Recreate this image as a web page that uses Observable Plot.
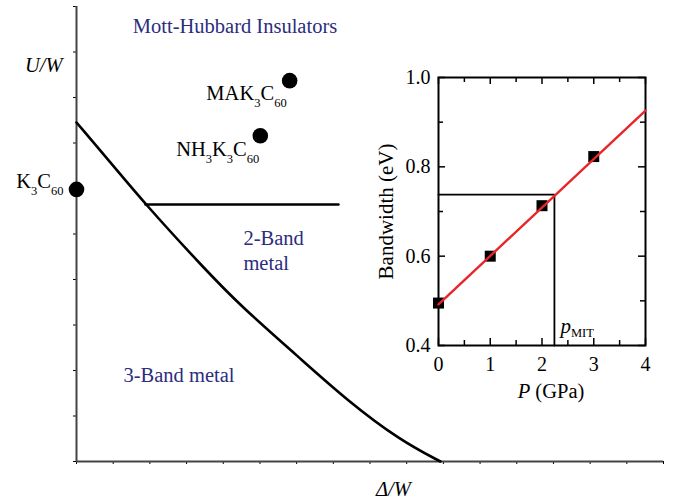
<!DOCTYPE html>
<html><head><meta charset="utf-8">
<script src="https://cdn.jsdelivr.net/npm/d3@7"></script>
<script src="https://cdn.jsdelivr.net/npm/@observablehq/plot@0.6"></script>
<style>
body{margin:0;background:#fff;}
#wrap{position:relative;width:673px;height:498px;overflow:hidden;background:#fff;}
#wrap svg{position:absolute;font-family:'Liberation Serif','Times New Roman',serif !important;}
#wrap svg text{font-family:'Liberation Serif','Times New Roman',serif !important;}
</style></head><body><div id="wrap"></div>
<script>
// ---- Main phase diagram data ----
const xTicksMain = d3.range(0, 17);
const yTicksMain = d3.range(0, 11);
const boundaryDelta = [0, 0.93, 1.88, 3.46, 4.47, 6.05, 7.38, 8.83, 9.92];
const boundaryU     = [7.45, 6.57, 5.65, 4.26, 3.42, 2.3, 1.34, 0.46, 0];
const splitDelta = [1.88, 7.14];
const splitU     = [5.65, 5.65];
const compoundNames = ["K3C60", "NH3K3C60", "MAK3C60"];
const compoundDelta = [0, 5.01, 5.81];
const compoundU     = [5.98, 7.16, 8.37];

// ---- Inset data ----
const pressure  = [0, 1, 2, 3];
const bandwidth = [0.495, 0.600, 0.713, 0.823];
const fitP  = [0, 4];
const fitBW = [0.492, 0.926];
const pMIT = 2.24;
const bwMIT = 0.738;
const pTicks = [0, 1, 2, 3, 4];
const pMinor = [0.5, 1.5, 2.5, 3.5];
const bwTicks = [0.4, 0.6, 0.8, 1.0];
const bwMinor = [0.5, 0.7, 0.9];

const navy = "#2b2d7e";
const serif = "'Liberation Serif', 'Times New Roman', serif";
const ns = "http://www.w3.org/2000/svg";

const boundary = boundaryDelta.map((d, i) => ({d, u: boundaryU[i]}));
const split = splitDelta.map((d, i) => ({d, u: splitU[i]}));
const compounds = compoundNames.map((name, i) => ({name, d: compoundDelta[i], u: compoundU[i]}));

const T = {fontFamily: serif};

const main = Plot.plot({
  width: 673, height: 498,
  marginLeft: 76, marginRight: 10, marginTop: 6, marginBottom: 37,
  style: {background: "transparent", fontFamily: serif, overflow: "visible"},
  x: {domain: [0, 16], ticks: xTicksMain, tickSize: 3, tickFormat: () => "", label: null},
  y: {domain: [0, 10], ticks: yTicksMain, tickSize: 3, tickFormat: () => "", label: null},
  marks: [
    Plot.ruleY([0], {stroke: "#444", strokeWidth: 2}),
    Plot.ruleX([0], {stroke: "#444", strokeWidth: 2}),
    Plot.line(boundary, {x: "d", y: "u", curve: "basis", stroke: "black", strokeWidth: 2.6}),
    Plot.line(split, {x: "d", y: "u", stroke: "black", strokeWidth: 2.6}),
    Plot.dot(compounds, {x: "d", y: "u", r: 7.8, fill: "black", stroke: "none"}),
    Plot.text([compounds[0]], {...T, x: "d", y: "u", text: "name", dx: -13, dy: -1, textAnchor: "end", lineAnchor: "bottom", fontSize: 20.5, fill: "black"}),
    Plot.text([compounds[1]], {...T, x: "d", y: "u", text: "name", dx: -1, dy: 20, textAnchor: "end", lineAnchor: "bottom", fontSize: 20.5, fill: "black"}),
    Plot.text([compounds[2]], {...T, x: "d", y: "u", text: "name", dx: -3, dy: 19, textAnchor: "end", lineAnchor: "bottom", fontSize: 20.5, fill: "black"}),
    Plot.text(["Mott-Hubbard Insulators"], {...T, x: 4.32, y: 9.41, text: d => d, textAnchor: "middle", lineAnchor: "bottom", fontSize: 20.5, fill: navy}),
    Plot.text(["2-Band\nmetal"], {...T, x: 4.55, y: 4.2, text: d => d, textAnchor: "start", lineAnchor: "bottom", lineHeight: 1.22, fontSize: 20.5, fill: navy}),
    Plot.text(["3-Band metal"], {...T, x: 1.28, y: 1.74, text: d => d, textAnchor: "start", lineAnchor: "bottom", fontSize: 20.5, fill: navy}),
    Plot.text(["U/W"], {...T, x: 0, y: 8.55, dx: -14, text: d => d, textAnchor: "end", lineAnchor: "bottom", fontSize: 20.5, fontStyle: "italic", fill: "black"}),
    Plot.text(["Δ/W"], {...T, x: 8.64, y: 0, dy: 34, text: d => d, textAnchor: "middle", lineAnchor: "bottom", fontSize: 20.5, fontStyle: "italic", fill: "black"})
  ]
});

const inset = Plot.plot({
  width: 290, height: 350,
  marginLeft: 68, marginRight: 15, marginTop: 17, marginBottom: 65,
  style: {background: "transparent", fontFamily: serif, overflow: "visible"},
  x: {domain: [0, 4], axis: null},
  y: {domain: [0.4, 1.0], axis: null},
  marks: [
    Plot.tickX(pTicks, {x: d => d, insetTop: 261, stroke: "black", strokeWidth: 1.5}),
    Plot.tickX(pTicks, {x: d => d, insetBottom: 261, stroke: "black", strokeWidth: 1.5}),
    Plot.tickX(pMinor, {x: d => d, insetTop: 263, stroke: "black", strokeWidth: 1.5}),
    Plot.tickX(pMinor, {x: d => d, insetBottom: 263, stroke: "black", strokeWidth: 1.5}),
    Plot.tickY(bwTicks, {y: d => d, insetRight: 200, stroke: "black", strokeWidth: 1.5}),
    Plot.tickY(bwTicks, {y: d => d, insetLeft: 200, stroke: "black", strokeWidth: 1.5}),
    Plot.tickY(bwMinor, {y: d => d, insetRight: 202, stroke: "black", strokeWidth: 1.5}),
    Plot.tickY(bwMinor, {y: d => d, insetLeft: 202, stroke: "black", strokeWidth: 1.5}),
    Plot.frame({stroke: "black", strokeWidth: 2}),
    Plot.line([{p: 0, b: bwMIT}, {p: pMIT, b: bwMIT}, {p: pMIT, b: 0.4}], {x: "p", y: "b", stroke: "black", strokeWidth: 1.8}),
    Plot.dot(pressure.map((p, i) => ({p, b: bandwidth[i]})), {x: "p", y: "b", symbol: "square", r: 6.2, fill: "black", stroke: "none"}),
    Plot.line(fitP.map((p, i) => ({p, b: fitBW[i]})), {x: "p", y: "b", stroke: "#e8262a", strokeWidth: 2.4}),
    Plot.text(pTicks, {...T, x: d => d, y: 0.4, dy: 25, text: d => String(d), textAnchor: "middle", lineAnchor: "bottom", fontSize: 20, fill: "black"}),
    Plot.text(bwTicks, {...T, x: 0, y: d => d, dx: -8, text: d => d3.format(".1f")(d), textAnchor: "end", lineAnchor: "middle", fontSize: 20, fill: "black"}),
    Plot.text(["P (GPa)"], {...T, frameAnchor: "bottom", dx: 9, dy: 52, text: d => d, textAnchor: "middle", lineAnchor: "bottom", fontSize: 20.5, fill: "black"}),
    Plot.text(["Bandwidth (eV)"], {...T, frameAnchor: "left", dx: -52, rotate: -90, text: d => d, textAnchor: "middle", lineAnchor: "middle", fontSize: 21, fill: "black"}),
    Plot.text(["pMIT"], {...T, x: pMIT, y: 0.4, dx: 6, dy: -13, text: d => d, textAnchor: "start", lineAnchor: "bottom", fontSize: 21, fill: "black"})
  ]
});

function tspan(parent, str, attrs) {
  const ts = document.createElementNS(ns, "tspan");
  for (const k in attrs) ts.setAttribute(k, attrs[k]);
  ts.textContent = str;
  parent.appendChild(ts);
}

function richify(svg) {
  svg.querySelectorAll("text").forEach(t => {
    if (t.querySelector("tspan")) return;
    const s = t.textContent;
    if (compoundNames.includes(s)) {
      t.textContent = "";
      let low = false;
      for (const m of s.match(/[A-Za-z]+|\d+/g)) {
        const digit = /\d/.test(m);
        const a = {};
        if (digit !== low) { a.dy = digit ? 7 : -7; low = digit; }
        if (digit) a["font-size"] = 12.5;
        tspan(t, m, a);
      }
    } else if (s === "P (GPa)") {
      t.textContent = "";
      tspan(t, "P", {"font-style": "italic"});
      tspan(t, " (GPa)", {});
    } else if (s === "pMIT") {
      t.textContent = "";
      tspan(t, "p", {"font-style": "italic"});
      tspan(t, "MIT", {"font-size": 12.5, dy: 4});
    }
  });
}

richify(main);
richify(inset);
const wrap = document.getElementById("wrap");
main.style.left = "0px"; main.style.top = "0px";
inset.style.left = "370px"; inset.style.top = "60px";
wrap.appendChild(main);
wrap.appendChild(inset);
</script>
</body></html>
